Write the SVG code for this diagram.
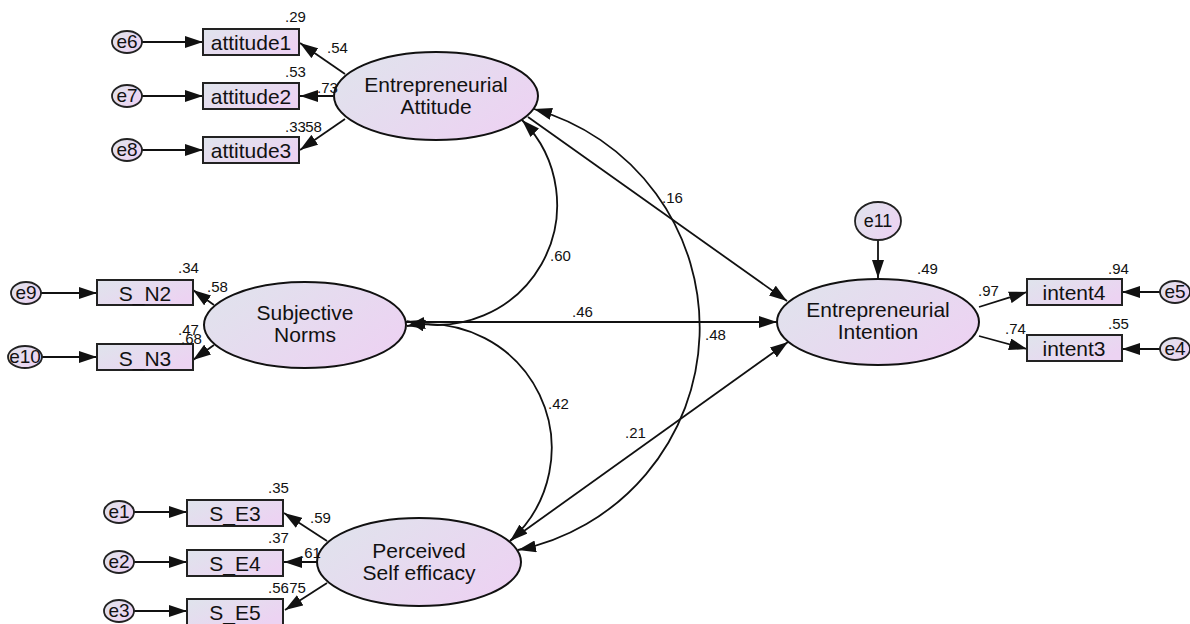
<svg xmlns="http://www.w3.org/2000/svg" width="1190" height="624" viewBox="0 0 1190 624">
<defs>
<linearGradient id="g" x1="0" y1="0" x2="1" y2="0.6">
<stop offset="0" stop-color="#dfe4ec"/>
<stop offset="1" stop-color="#ecd3f2"/>
</linearGradient>
<marker id="ah" viewBox="0 0 18 12" markerUnits="userSpaceOnUse" markerWidth="18" markerHeight="12" refX="18" refY="6" orient="auto-start-reverse">
<path d="M0,0 L18,6 L0,12 z" fill="#111"/>
</marker>
<style>
.c{fill:none;stroke:#111;stroke-width:1.8}
.a{marker-end:url(#ah)}
.b{marker-start:url(#ah);marker-end:url(#ah)}
.lat{fill:url(#g);stroke:#111;stroke-width:2}
.obs{fill:url(#g);stroke:#222;stroke-width:2}
.err{fill:url(#g);stroke:#222;stroke-width:1.8}
text{font-family:"Liberation Sans",Arial,sans-serif;fill:#111}
.lt{font-size:21px;text-anchor:middle}
.ot{font-size:21px;text-anchor:middle}
.et{font-size:19px;text-anchor:middle}
.n{font-size:15px}
</style>
</defs>
<g id="connectors">
<line class="c a" x1="142" y1="42" x2="203" y2="42"/>
<line class="c a" x1="142" y1="96" x2="203" y2="96"/>
<line class="c a" x1="142" y1="150" x2="203" y2="150"/>
<line class="c a" x1="345" y1="74" x2="300" y2="43"/>
<line class="c a" x1="333" y1="96" x2="300" y2="96"/>
<line class="c a" x1="345" y1="119" x2="300" y2="150"/>
<line class="c a" x1="41" y1="293" x2="97" y2="293"/>
<line class="c a" x1="42" y1="357" x2="97" y2="357"/>
<line class="c a" x1="214" y1="305" x2="193" y2="290"/>
<line class="c a" x1="214" y1="345" x2="193" y2="360"/>
<line class="c a" x1="134" y1="512" x2="187" y2="512"/>
<line class="c a" x1="134" y1="562" x2="187" y2="562"/>
<line class="c a" x1="134" y1="611" x2="187" y2="611"/>
<line class="c a" x1="327" y1="541" x2="284" y2="513"/>
<line class="c a" x1="317" y1="562" x2="284" y2="562"/>
<line class="c a" x1="327" y1="583" x2="285" y2="610"/>
<line class="c a" x1="979" y1="307" x2="1027" y2="292"/>
<line class="c a" x1="979" y1="336" x2="1027" y2="349"/>
<line class="c a" x1="1160" y1="292" x2="1122" y2="292"/>
<line class="c a" x1="1160" y1="349" x2="1122" y2="349"/>
<line class="c a" x1="878" y1="240" x2="878" y2="278"/>
<line class="c a" x1="528" y1="117" x2="787" y2="301"/>
<line class="c a" x1="406" y1="322" x2="777" y2="322"/>
<line class="c a" x1="510" y1="541" x2="788" y2="342"/>
<path class="c b" d="M407,321 A120,120 0 0 0 522,120"/>
<path class="c b" d="M407,326 A124,124 0 0 1 510,541"/>
<path class="c b" d="M534,109 A227,227 0 0 1 518,550"/>
</g>
<g id="e6"><ellipse class="err" cx="127" cy="42" rx="15" ry="11"/><text class="et" x="127" y="48">e6</text></g>
<g id="e7"><ellipse class="err" cx="127" cy="96" rx="15" ry="11"/><text class="et" x="127" y="102">e7</text></g>
<g id="e8"><ellipse class="err" cx="127" cy="150" rx="15" ry="11"/><text class="et" x="127" y="156">e8</text></g>
<g id="attitude1"><rect class="obs" x="203" y="29" width="96" height="26"/><text class="ot" x="251" y="50">attitude1</text></g>
<g id="attitude2"><rect class="obs" x="203" y="83" width="96" height="26"/><text class="ot" x="251" y="104">attitude2</text></g>
<g id="attitude3"><rect class="obs" x="203" y="137" width="96" height="26"/><text class="ot" x="251" y="158">attitude3</text></g>
<g id="e9"><ellipse class="err" cx="26" cy="293" rx="15" ry="11"/><text class="et" x="26" y="299">e9</text></g>
<g id="e10"><ellipse class="err" cx="25" cy="357" rx="17" ry="11"/><text class="et" x="25" y="363">e10</text></g>
<g id="S_N2"><rect class="obs" x="97" y="280" width="96" height="25"/><text class="ot" x="145" y="301">S_N2</text></g>
<g id="S_N3"><rect class="obs" x="97" y="344" width="96" height="26"/><text class="ot" x="145" y="366">S_N3</text></g>
<g id="e1"><ellipse class="err" cx="119" cy="512" rx="15" ry="11"/><text class="et" x="119" y="518">e1</text></g>
<g id="e2"><ellipse class="err" cx="119" cy="562" rx="15" ry="11"/><text class="et" x="119" y="568">e2</text></g>
<g id="e3"><ellipse class="err" cx="119" cy="611" rx="15" ry="11"/><text class="et" x="119" y="617">e3</text></g>
<g id="S_E3"><rect class="obs" x="187" y="500" width="96" height="26"/><text class="ot" x="235" y="521">S_E3</text></g>
<g id="S_E4"><rect class="obs" x="187" y="550" width="96" height="26"/><text class="ot" x="235" y="571">S_E4</text></g>
<g id="S_E5"><rect class="obs" x="187" y="599" width="96" height="26"/><text class="ot" x="235" y="620">S_E5</text></g>
<g id="intent4"><rect class="obs" x="1027" y="279" width="95" height="26"/><text class="ot" x="1074" y="300">intent4</text></g>
<g id="intent3"><rect class="obs" x="1027" y="335" width="95" height="26"/><text class="ot" x="1074" y="356">intent3</text></g>
<g id="e5"><ellipse class="err" cx="1175" cy="292" rx="15" ry="11"/><text class="et" x="1175" y="298">e5</text></g>
<g id="e4"><ellipse class="err" cx="1175" cy="349" rx="15" ry="11"/><text class="et" x="1175" y="355">e4</text></g>
<g id="e11"><ellipse class="err" cx="878" cy="221" rx="23" ry="19"/><text class="et" x="878" y="227" style="font-size:18px">e11</text></g>
<g id="EA"><ellipse class="lat" cx="436" cy="96" rx="102" ry="44"/><text class="lt" x="436" y="92">Entrepreneurial</text><text class="lt" x="436" y="114">Attitude</text></g>
<g id="SN"><ellipse class="lat" cx="305" cy="325" rx="101" ry="43"/><text class="lt" x="305" y="320">Subjective</text><text class="lt" x="305" y="342">Norms</text></g>
<g id="PSE"><ellipse class="lat" cx="419" cy="562" rx="102" ry="44"/><text class="lt" x="419" y="558">Perceived</text><text class="lt" x="419" y="580">Self efficacy</text></g>
<g id="EI"><ellipse class="lat" cx="878" cy="322" rx="101" ry="43"/><text class="lt" x="878" y="317">Entrepreneurial</text><text class="lt" x="878" y="339">Intention</text></g>
<g id="labels">
<text class="n" x="285" y="22">.29</text>
<text class="n" x="327" y="53">.54</text>
<text class="n" x="285" y="77">.53</text>
<text class="n" x="317" y="93">.73</text>
<text class="n" x="285" y="132">.33</text>
<text class="n" x="301" y="132">.58</text>
<text class="n" x="178" y="273">.34</text>
<text class="n" x="207" y="292">.58</text>
<text class="n" x="178" y="335">.47</text>
<text class="n" x="181" y="344">.68</text>
<text class="n" x="268" y="493">.35</text>
<text class="n" x="310" y="523">.59</text>
<text class="n" x="268" y="543">.37</text>
<text class="n" x="300" y="558">.61</text>
<text class="n" x="268" y="593">.56</text>
<text class="n" x="285" y="593">.75</text>
<text class="n" x="978" y="296">.97</text>
<text class="n" x="1005" y="334">.74</text>
<text class="n" x="1108" y="274">.94</text>
<text class="n" x="1108" y="329">.55</text>
<text class="n" x="917" y="274">.49</text>
<text class="n" x="662" y="203">.16</text>
<text class="n" x="550" y="261">.60</text>
<text class="n" x="572" y="317">.46</text>
<text class="n" x="705" y="340">.48</text>
<text class="n" x="548" y="409">.42</text>
<text class="n" x="625" y="438">.21</text>
</g>
</svg>
